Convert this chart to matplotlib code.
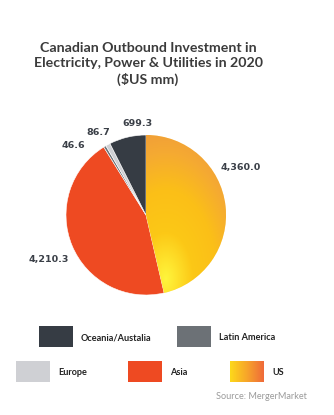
import numpy as np
import matplotlib
matplotlib.use("Agg")
import matplotlib.pyplot as plt
from matplotlib.patches import Rectangle
from matplotlib.colors import LinearSegmentedColormap

# ---- data ----
regions = ["US", "Asia", "Latin America", "Europe", "Oceania/Austalia"]
values = [4360.0, 4210.3, 46.6, 86.7, 699.3]
value_labels = ["4,360.0", "4,210.3", "46.6", "86.7", "699.3"]
legend_order = ["Oceania/Austalia", "Latin America", "Europe", "Asia", "US"]
title = "Canadian Outbound Investment in\nElectricity, Power & Utilities in 2020\n($US mm)"
source = "Source: MergerMarket"

# ---- style ----
colors = {"US": "#fbc116", "Asia": "#ee4a22", "Latin America": "#6c7176",
          "Europe": "#cfd0d4", "Oceania/Austalia": "#363c44"}
label_xy = [(1.18, 0.60), (-1.21, -0.55), (-0.91, 0.87), (-0.60, 1.03), (-0.11, 1.15)]
legend_boxes = {"Oceania/Austalia": (39, 326), "Latin America": (177, 326),
                "Europe": (16, 361), "Asia": (128, 361), "US": (230, 361)}

W, H = 334, 415
fig = plt.figure(figsize=(W / 100, H / 100), dpi=100)
fig.patch.set_facecolor("white")

def fx(px):
    return px / W

def fy(py):
    return 1 - py / H

# title
fig.text(fx(148), fy(64), title, ha="center", va="center", fontsize=10.2,
         family="Lato", weight="bold", color="#3b3b3b", linespacing=1.35)

# pie axes: centre (146, 215) px, radius 89 px
cx, cy, R = 146, 215, 89
half = 100
ax = fig.add_axes([fx(cx - half), fy(cy + half), 2 * half / W, 2 * half / H])
lim = half / R
ax.set_xlim(-lim, lim)
ax.set_ylim(-lim, lim)
ax.axis("off")

wedges, _ = ax.pie(values, colors=[colors[r] for r in regions], startangle=90,
                   counterclock=False, radius=1.0,
                   wedgeprops=dict(edgecolor="white", linewidth=0.4))

# gradient for US wedge (elliptical: bright yellow near bottom -> orange at rim)
us = wedges[0]
cmap = LinearSegmentedColormap.from_list(
    "us", [(0.0, "#fff53c"), (0.14, "#fee02a"), (0.3, "#fcc816"),
           (0.58, "#fbbf18"), (0.82, "#f5aa32"), (1.0, "#f09c3a")])
n = 300
xs = np.linspace(-1, 1, n)
X, Y = np.meshgrid(xs, xs)
D = np.sqrt(((X - 0.25) * 1.3) ** 2 + ((Y + 0.8) * 0.75) ** 2)
G = np.clip(D / 1.45, 0, 1)
im = ax.imshow(G, extent=(-1, 1, -1, 1), origin="lower", cmap=cmap,
               vmin=0, vmax=1, zorder=us.get_zorder() + 0.1,
               interpolation="bilinear")
im.set_clip_path(us)

for (lx, ly), t in zip(label_xy, value_labels):
    ax.text(lx, ly, t, ha="center", va="center", fontsize=6.8, weight="bold",
            family="DejaVu Sans", color="#3a3f47")

# legend
bw, bh = 34, 21
for name in legend_order:
    x0, y0 = legend_boxes[name]
    if name == "US":
        lax = fig.add_axes([fx(x0), fy(y0 + bh), bw / W, bh / H])
        lax.axis("off")
        grad = np.linspace(0, 1, 100).reshape(1, -1)
        lcm = LinearSegmentedColormap.from_list(
            "usl", ["#fdd81a", "#f7a52a", "#ef6a3a"])
        lax.imshow(grad, aspect="auto", cmap=lcm, extent=(0, 1, 0, 1))
    else:
        fig.patches.append(Rectangle((fx(x0), fy(y0 + bh)), bw / W, bh / H,
                                     transform=fig.transFigure,
                                     facecolor=colors[name], edgecolor="none"))
    fig.text(fx(x0 + bw + 8), fy(y0 + bh / 2 + 1), name, ha="left", va="center",
             fontsize=6.6, weight="bold", family="Lato", color="#222222")

fig.text(fx(307), fy(396), source, ha="right", va="center", fontsize=6.6,
         family="Lato", color="#9a9a9a")

fig.savefig("out.png", dpi=100)
